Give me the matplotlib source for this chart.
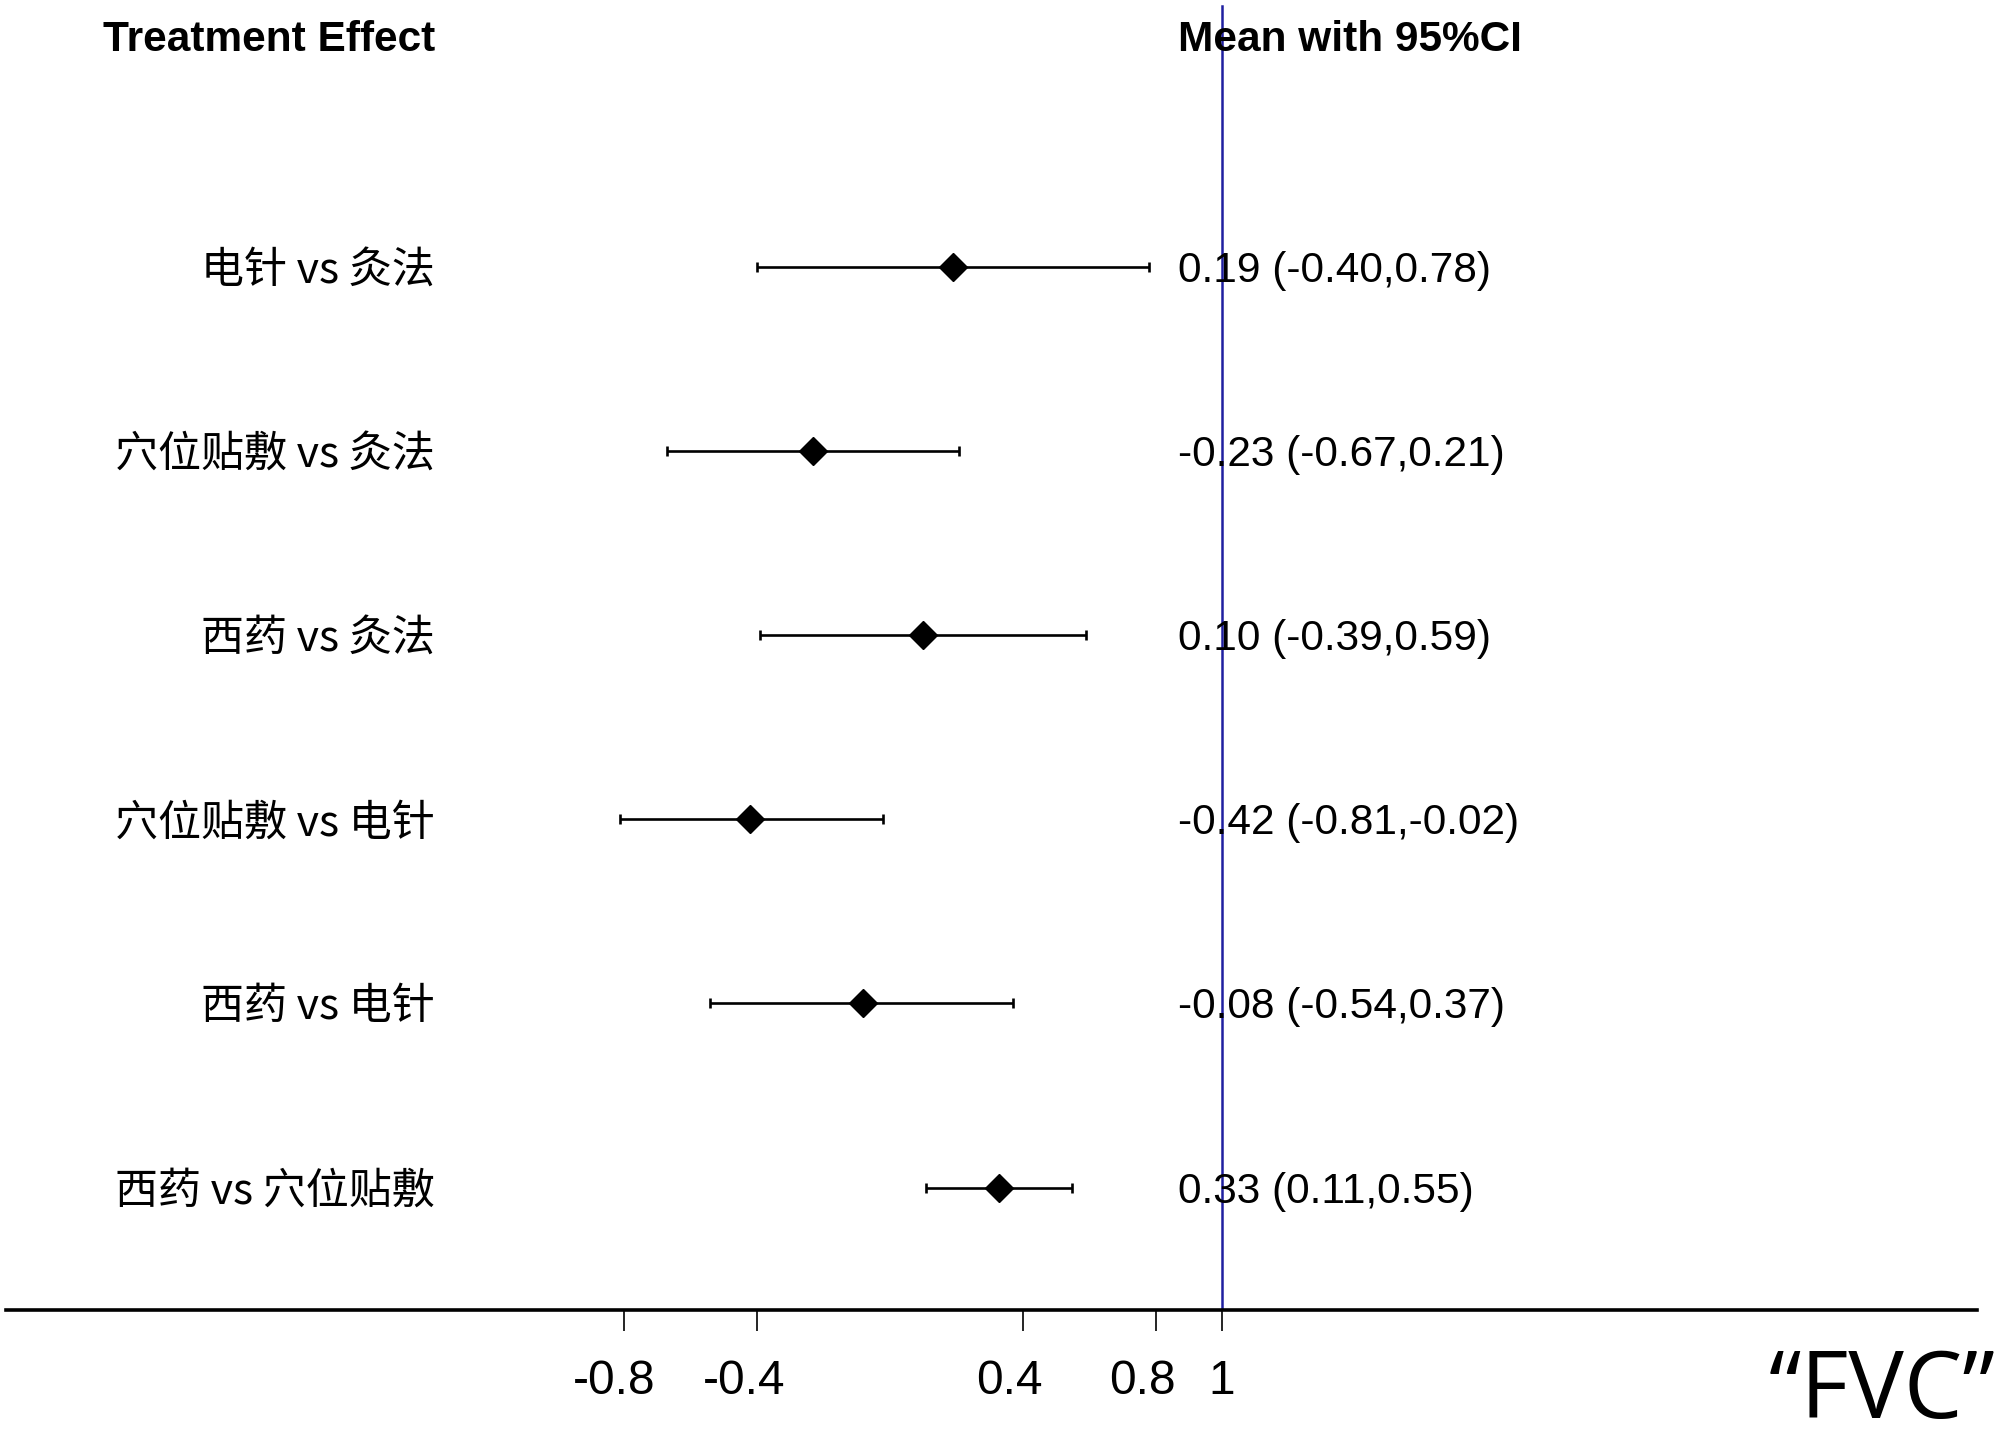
import matplotlib.pyplot as plt
import matplotlib.transforms as mtransforms
import numpy as np

# comparisons, top to bottom
comparisons = ['电针 vs 灸法', '穴位贴敷 vs 灸法', '西药 vs 灸法',
               '穴位贴敷 vs 电针', '西药 vs 电针', '西药 vs 穴位贴敷']
means = np.array([0.19, -0.23, 0.10, -0.42, -0.08, 0.33])
lower = np.array([-0.40, -0.67, -0.39, -0.81, -0.54, 0.11])
upper = np.array([0.78, 0.21, 0.59, -0.02, 0.37, 0.55])

tick_vals = [-0.8, -0.4, 0.4, 0.8, 1]
tick_labels = ['-0.8', '-0.4', '0.4', '0.8', '1']
ref_value = 1
outcome = '“FVC”'

cjk = ['Noto Sans CJK SC', 'DejaVu Sans']
latin = ['Liberation Sans', 'DejaVu Sans']

fig = plt.figure(figsize=(20, 14.38), dpi=100)
ax = fig.add_axes([6 / 2000, 1 - 1310 / 1438, 1971 / 2000, 1310 / 1438])

ypos = np.arange(len(comparisons), 0, -1)

ax.errorbar(means, ypos, xerr=[means - lower, upper - means], fmt='D',
            color='black', ms=14.5, elinewidth=1.9, capsize=3.6, capthick=1.9)

ax.axvline(ref_value, ymin=0, ymax=1 - 6 / 1310, color='#1f1fa0', lw=1.8, zorder=0)

label_x = -1.368
value_x = 0.869
text_dy = -0.022
for y, name, m, lo, hi in zip(ypos, comparisons, means, lower, upper):
    ax.text(label_x, y + text_dy, name, ha='right', va='center', fontsize=31, family=cjk)
    ax.text(value_x, y + text_dy, f'{m:.2f} ({lo:.2f},{hi:.2f})', ha='left', va='center',
            fontsize=30.5, family=latin)

head_y = 7.228
ax.text(label_x, head_y, 'Treatment Effect', ha='right', va='center',
        fontsize=30.5, fontweight='bold', family=latin)
ax.text(value_x, head_y, 'Mean with 95%CI', ha='left', va='center',
        fontsize=30.5, fontweight='bold', family=latin)

ax.set_xlim(-2.658, 3.271)
ax.set_ylim(0.335, 7.447)
ax.set_yticks([])
ax.set_xticks(tick_vals)
ax.set_xticklabels(tick_labels, fontsize=34.5, family=latin)
ax.tick_params(axis='x', length=15, width=1.2, pad=20, color='black')
# labels in the original sit a little left of their ticks, except "1"
shifts_px = [-9, -13, -13, -13, 0]
for lab, dx in zip(ax.get_xticklabels(), shifts_px):
    lab.set_transform(lab.get_transform() +
                      mtransforms.Affine2D().translate(dx, 0))
for s in ['left', 'right', 'top']:
    ax.spines[s].set_visible(False)
ax.spines['bottom'].set_linewidth(2.6)

fig.text(0.998, 1 - 1418 / 1438, outcome, ha='right', va='baseline',
         fontsize=67, family=['Open Sans', 'DejaVu Sans'])

fig.savefig('out.png', dpi=100)
